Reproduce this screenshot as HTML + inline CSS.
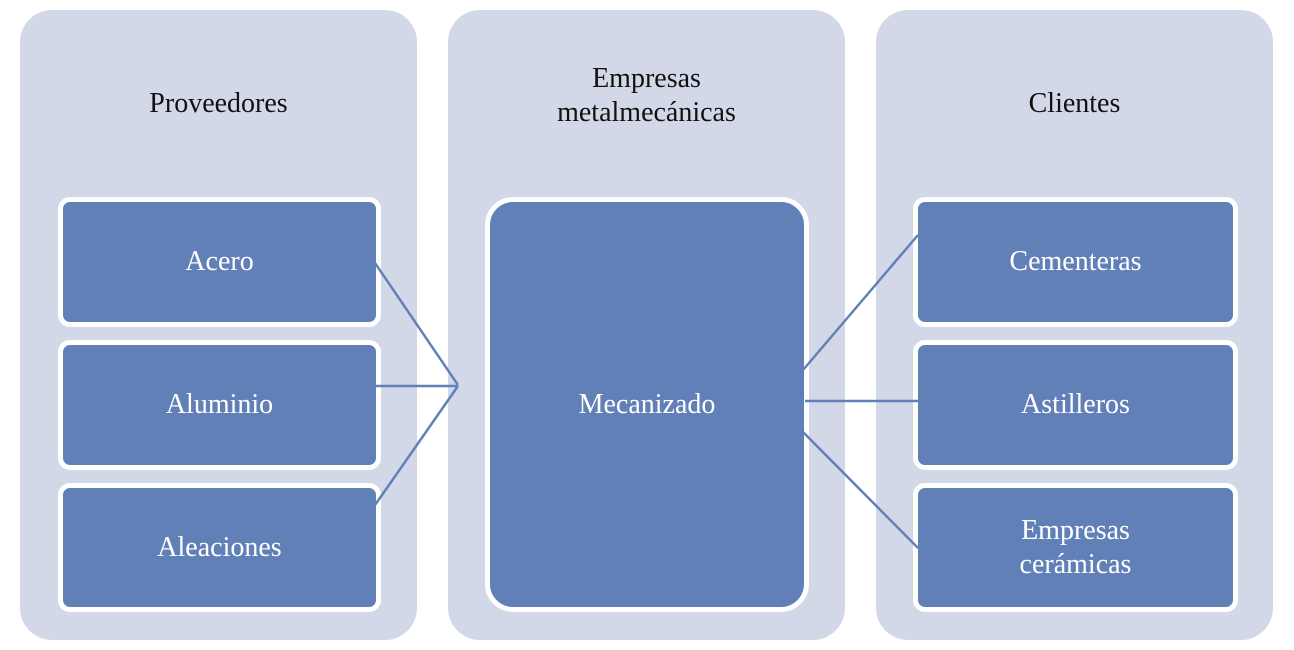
<!DOCTYPE html>
<html><head><meta charset="utf-8"><style>
body{margin:0;width:1294px;height:650px;background:#fff;position:relative;overflow:hidden;font-family:"Liberation Serif",serif;}
.p{position:absolute;top:10px;width:397px;height:630px;background:#d3d8e8;border-radius:32px;}
.t{position:absolute;width:397px;text-align:center;font-size:28px;color:#111;line-height:34px;}
.b{position:absolute;box-sizing:border-box;background:#6280b8;border:5px solid #fff;border-radius:12px;color:#fff;font-size:28px;display:flex;align-items:center;justify-content:center;text-align:center;line-height:34px;}
svg{position:absolute;left:0;top:0}
</style></head><body>
<div class="p" style="left:20px"></div>
<div class="p" style="left:448px"></div>
<div class="p" style="left:876px"></div>
<div class="t" style="left:20px;top:87px">Proveedores</div>
<div class="t" style="left:448px;top:62px">Empresas<br>metalmecánicas</div>
<div class="t" style="left:876px;top:87px">Clientes</div>
<div class="b" style="left:58px;top:197px;width:323px;height:130px">Acero</div>
<div class="b" style="left:58px;top:340px;width:323px;height:130px">Aluminio</div>
<div class="b" style="left:58px;top:483px;width:323px;height:129px">Aleaciones</div>
<div class="b" style="left:485px;top:197px;width:324px;height:415px;border-radius:28px">Mecanizado</div>
<div class="b" style="left:913px;top:197px;width:325px;height:130px">Cementeras</div>
<div class="b" style="left:913px;top:340px;width:325px;height:130px">Astilleros</div>
<div class="b" style="left:913px;top:483px;width:325px;height:129px">Empresas<br>cerámicas</div>
<svg width="1294" height="650"><g stroke="#6280b8" stroke-width="2.5" fill="none">
<line x1="375" y1="263" x2="458" y2="385"/><line x1="375" y1="386" x2="458" y2="386"/><line x1="375" y1="505" x2="458" y2="386"/>
<line x1="803" y1="370" x2="918" y2="235"/><line x1="805" y1="401" x2="918" y2="401"/><line x1="803" y1="432" x2="918" y2="548"/>
</g></svg>
</body></html>
